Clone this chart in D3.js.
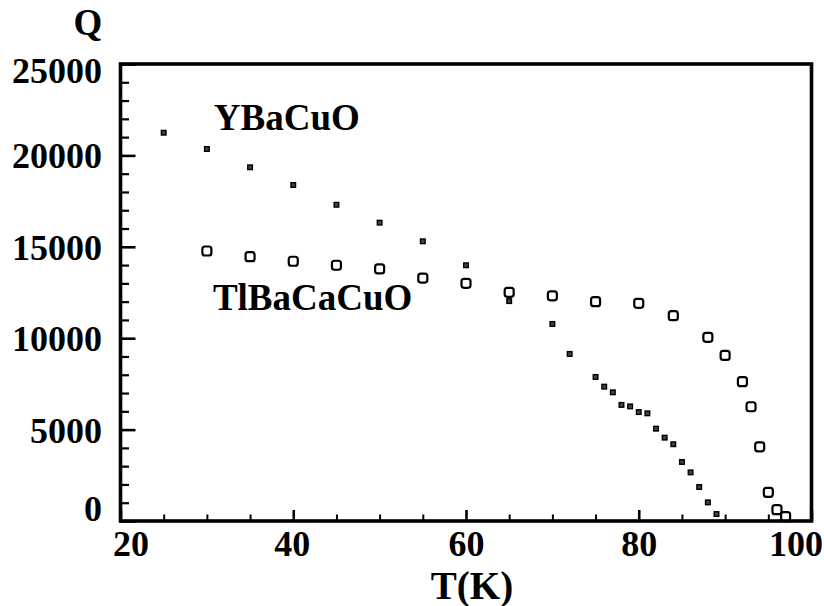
<!DOCTYPE html>
<html>
<head>
<meta charset="utf-8">
<script src="https://cdn.jsdelivr.net/npm/d3@7"></script>
</head>
<body style="margin:0;background:#fff">
<svg id="chart" width="824" height="606"></svg>
<script>
// Temperature (K) and Q for the YBaCuO sample
const yTemps = [25, 30, 35, 40, 45, 50, 55, 60, 65, 70, 72, 75, 76, 77, 78, 79, 80, 81, 82, 83, 84, 85, 86, 87, 88, 89];
const yQ     = [21240, 20350, 19350, 18380, 17300, 16320, 15300, 13990, 12030, 10780, 9140, 7880, 7350, 7040, 6350, 6270, 5960, 5890, 5050, 4560, 4200, 3230, 2660, 1860, 1020, 380];

// Temperature (K) and Q for the TlBaCaCuO sample
const tTemps = [30, 35, 40, 45, 50, 55, 60, 65, 70, 75, 80, 84, 88, 90, 92, 93, 94, 95, 96, 97];
const tQ     = [14770, 14460, 14210, 13990, 13790, 13290, 13000, 12510, 12320, 12000, 11910, 11230, 10050, 9060, 7620, 6250, 4060, 1570, 620, 240];

// Axis ticks
const xMajor = [20, 40, 60, 80, 100];
const xMinor = [25, 30, 35, 45, 50, 55, 65, 70, 75, 85, 90, 95];
const yMajor = [0, 5000, 10000, 15000, 20000, 25000];
const yMinor = [1000, 2000, 3000, 4000, 6000, 7000, 8000, 9000, 11000, 12000, 13000, 14000,
                16000, 17000, 18000, 19000, 21000, 22000, 23000, 24000];

// Series names, anchored in data coordinates (T, Q)
const seriesNames = ["YBaCuO", "TlBaCaCuO"];
const namePos = [[30.8, 21390], [30.7, 11540]];

const FONT = "Liberation Serif";
const svg = d3.select("#chart");
const plotLeft = 120.5, plotRight = 811.5, plotTop = 64, plotBottom = 521;

const x = d3.scaleLinear().domain([20, 100]).range([plotLeft, plotRight]);
const y = d3.scaleLinear().domain([0, 25000]).range([plotBottom, plotTop]);

function serif(sel, size, weight) {
  sel.attr("font-family", FONT).attr("font-size", size).attr("font-weight", weight)
     .style("font-family", FONT).style("font-size", size + "px").style("font-weight", weight)
     .attr("fill", "#000");
}

// minor ticks (inside the frame)
svg.append("g").attr("transform", `translate(${plotLeft},0)`)
  .call(d3.axisLeft(y).tickValues(yMinor).tickSize(-8.5).tickFormat(""))
  .call(g => g.select(".domain").remove())
  .call(g => g.selectAll("line").attr("stroke", "#000").attr("stroke-width", 2.2));

svg.append("g").attr("transform", `translate(0,${plotBottom})`)
  .call(d3.axisBottom(x).tickValues(xMinor).tickSize(-6.5).tickFormat(""))
  .call(g => g.select(".domain").remove())
  .call(g => g.selectAll("line").attr("stroke", "#000").attr("stroke-width", 2));

// major ticks with labels
const yAxis = svg.append("g").attr("transform", `translate(${plotLeft},0)`)
  .call(d3.axisLeft(y).tickValues(yMajor).tickSize(-15).tickPadding(0).tickFormat(d3.format("d")))
  .call(g => g.select(".domain").remove());
yAxis.attr("font-family", FONT);
yAxis.selectAll("line").attr("stroke", "#000").attr("stroke-width", 2.6);
yAxis.selectAll("text")
  .attr("x", -18.5)
  .attr("dy", null)
  .attr("y", d => d === 25000 ? 18 : d === 0 ? -1 : 12.5)
  .call(serif, 36, "bold");

const xAxis = svg.append("g").attr("transform", `translate(0,${plotBottom})`)
  .call(d3.axisBottom(x).tickValues(xMajor).tickSize(-11).tickPadding(0).tickFormat(d3.format("d")))
  .call(g => g.select(".domain").remove());
xAxis.attr("font-family", FONT);
xAxis.selectAll("line").attr("stroke", "#000").attr("stroke-width", 2.6);
xAxis.selectAll("text")
  .attr("dy", null)
  .attr("y", 35)
  .attr("x", d => d === 20 ? 10 : d === 100 ? -16 : d === 40 ? -1.5 : 0)
  .call(serif, 36, "bold");

// plot frame
svg.append("rect")
  .attr("x", plotLeft).attr("y", plotTop)
  .attr("width", plotRight - plotLeft).attr("height", plotBottom - plotTop)
  .attr("fill", "none").attr("stroke", "#000").attr("stroke-width", 3.6);

// TlBaCaCuO: open rounded squares
svg.append("g").selectAll("rect")
  .data(tTemps.map((t, i) => [t, tQ[i]]))
  .join("rect")
  .attr("x", d => x(d[0]) - 4.5).attr("y", d => y(d[1]) - 4.5)
  .attr("width", 9).attr("height", 9).attr("rx", 2.5)
  .attr("fill", "none").attr("stroke", "#000").attr("stroke-width", 2.2);

// YBaCuO: small dark squares
svg.append("g").selectAll("rect")
  .data(yTemps.map((t, i) => [t, yQ[i]]))
  .join("rect")
  .attr("x", d => x(d[0]) - 2.3).attr("y", d => y(d[1]) - 2.3)
  .attr("width", 4.6).attr("height", 4.6)
  .attr("fill", "#444").attr("stroke", "#000").attr("stroke-width", 1.4);

// series names
svg.append("g").selectAll("text")
  .data(seriesNames)
  .join("text")
  .attr("x", (d, i) => x(namePos[i][0]))
  .attr("y", (d, i) => y(namePos[i][1]))
  .call(serif, 37, "bold")
  .text(d => d);

// axis titles
svg.append("text").attr("x", 88).attr("y", 34.5).attr("text-anchor", "middle")
  .call(serif, 37, "bold").text("Q");
svg.append("text").attr("x", 472).attr("y", 598.5).attr("text-anchor", "middle")
  .call(serif, 39, "bold").text("T(K)");
</script>
</body>
</html>
